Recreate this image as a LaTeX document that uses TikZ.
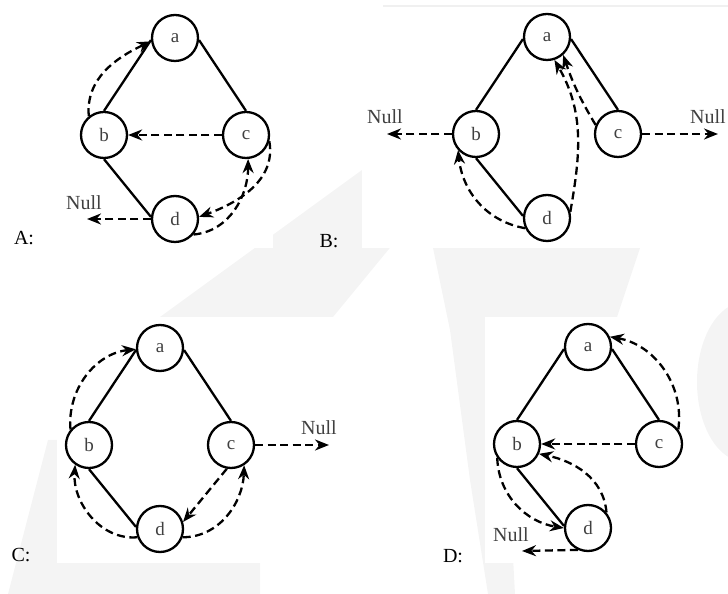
\documentclass[tikz,border=0pt]{standalone}
\usepackage{fontspec}
\setmainfont{Liberation Serif}
\usetikzlibrary{arrows.meta}

\begin{document}
\begin{tikzpicture}[x=1pt,y=1pt,
  vtx/.style={draw,circle,line width=2.3pt,minimum size=46pt,inner sep=0pt,text=black!75,font=\fontsize{19}{19}\selectfont},
  edge/.style={line width=2.3pt},
  thread/.style={line width=2.3pt,dash pattern=on 8pt off 4.5pt,-{Stealth[length=14pt,width=11pt]}},
  nul/.style={text=black!75,font=\fontsize{20}{20}\selectfont},
  tag/.style={font=\fontsize{20}{20}\selectfont},
  wm/.style={fill=gray!9}]
\useasboundingbox (0,0) rectangle (728,594);
% watermark behind the four panels
\fill[wm] (160,277)--(362,424)--(454,424)--(333,277)--cycle;
\fill[wm] (433,346)--(640,346)--(617,277)--(500,277)--(515,0)--(488,0)--(470,114)--(450,264)--cycle;
\fill[wm] (745,212) ellipse[x radius=48,y radius=80];
\fill[wm] (48,154)--(60,154)--(60,31)--(260,31)--(260,0)--(8,0)--cycle;
\draw[gray!12,line width=2pt] (383,588)--(728,588);
\fill[white] (0,346) rectangle (273,594);
\fill[white] (362,346) rectangle (728,587);
\fill[white] (57,31) rectangle (440,277);
\fill[white] (485,31) rectangle (690,277);

% A
\begin{scope}[shift={(175,556)}]
\node[vtx] (a1) at (0,0) {a};
\node[vtx] (b1) at (-71,-97) {b};
\node[vtx] (c1) at (71,-97) {c};
\node[vtx] (d1) at (0,-181) {d};
\draw[edge] (a1.185)--(b1.north) (a1.-5)--(c1.north) (b1.south)--(d1.175);
\draw[thread] (b1.129) to[out=95,in=205] (a1.188);
\draw[thread] (c1) -- (b1);
\draw[thread] (c1.-15) to[out=-80,in=20] (d1.5);
\draw[thread] (d1.-40) to[out=5,in=-90] (c1.-85);
\coordinate (n1) at (-88,-181);
\node[nul] (null1) at (-91,-165) {Null};
\draw[thread] (d1) -- (n1);
\end{scope}

% B
\begin{scope}[shift={(547,557)}]
\node[vtx] (a2) at (0,0) {a};
\node[vtx] (b2) at (-71,-97) {b};
\node[vtx] (c2) at (71,-97) {c};
\node[vtx] (d2) at (0,-181) {d};
\draw[edge] (a2.185)--(b2.north) (a2.-5)--(c2.north) (b2.south)--(d2.175);
\coordinate (n2l) at (-160,-97);
\coordinate (n2r) at (171,-97);
\node[nul] (null2l) at (-162,-80) {Null};
\node[nul] (null2r) at (161,-80) {Null};
\draw[thread] (b2) -- (n2l);
\draw[thread] (c2) -- (n2r);
\draw[thread] (d2.205) to[out=170,in=-84] (b2.222);
\draw[thread] (d2.15) to[out=80,in=-60] (a2.-72);
\draw[thread] (c2.158) to[bend left=6] (a2.-48);
\end{scope}

% C
\begin{scope}[shift={(160,246)}]
\node[vtx] (a3) at (0,0) {a};
\node[vtx] (b3) at (-71,-97) {b};
\node[vtx] (c3) at (71,-97) {c};
\node[vtx] (d3) at (0,-181) {d};
\draw[edge] (a3.185)--(b3.north) (a3.-5)--(c3.north) (b3.south)--(d3.175);
\draw[thread] (b3.140) to[out=95,in=186] (a3.183);
\draw[thread] (d3.200) to[out=185,in=-94] (b3.235);
\draw[thread] (c3.-100) -- (d3.17);
\draw[thread] (d3.-20) to[out=0,in=-92] (c3.-57);
\coordinate (n3) at (169,-97);
\node[nul] (null3) at (159,-80) {Null};
\draw[thread] (c3) -- (n3);
\end{scope}

% D
\begin{scope}[shift={(588,247)}]
\node[vtx] (a4) at (0,0) {a};
\node[vtx] (b4) at (-71,-97) {b};
\node[vtx] (c4) at (71,-97) {c};
\node[vtx] (d4) at (0,-181) {d};
\draw[edge] (a4.185)--(b4.north) (a4.-5)--(c4.north) (b4.south)--(d4.175);
\draw[thread] (c4.37) to[out=82,in=-10] (a4.25);
\draw[thread] (c4) -- (b4);
\draw[thread] (d4.40) to[out=95,in=-12] (b4.-24);
\draw[thread] (b4.215) to[out=-88,in=171] (d4.180);
\coordinate (n4) at (-66,-204);
\node[nul] (null4) at (-77,-188) {Null};
\draw[thread] (d4.245) -- (n4);
\end{scope}

\node[tag] (tagA) at (24,356) {A:};
\node[tag] (tagB) at (329,353) {B:};
\node[tag] (tagC) at (21,39) {C:};
\node[tag] (tagD) at (453,38) {D:};
\end{tikzpicture}
\end{document}
